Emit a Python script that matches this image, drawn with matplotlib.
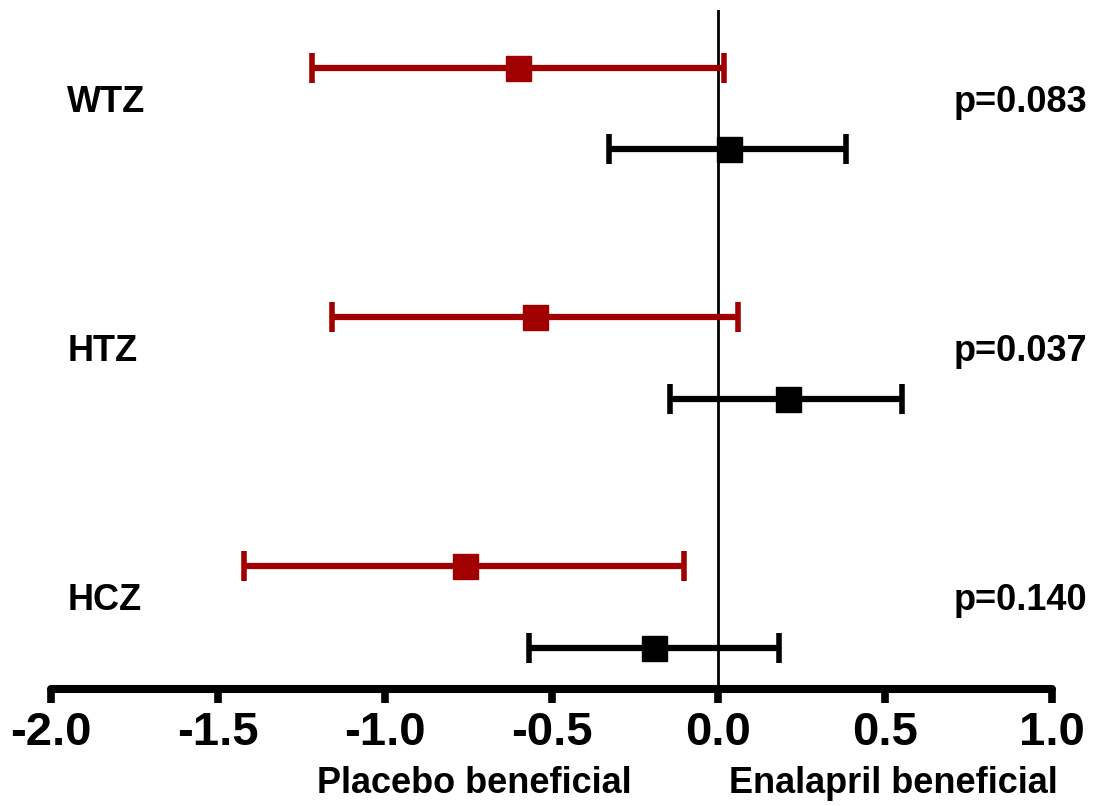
import matplotlib
matplotlib.use("Agg")
import matplotlib.pyplot as plt
import numpy as np

plt.rcParams['font.family'] = ['Liberation Sans', 'DejaVu Sans']
plt.rcParams['font.weight'] = 'bold'

# genotype groups, top to bottom
groups = ['WTZ', 'HTZ', 'HCZ']
p_values = ['p=0.083', 'p=0.037', 'p=0.140']

# effect estimate with lower / upper limits, first series (red)
red_est = [-0.601, -0.548, -0.760]
red_lo = [-1.218, -1.159, -1.422]
red_hi = [0.017, 0.060, -0.103]

# second series (black)
black_est = [0.031, 0.209, -0.192]
black_lo = [-0.329, -0.144, -0.566]
black_hi = [0.384, 0.551, 0.183]

xticks = [-2.0, -1.5, -1.0, -0.5, 0.0, 0.5, 1.0]

RED = '#a00000'

fig = plt.figure(figsize=(11.03, 8.06), dpi=100)
ax = fig.add_axes([51 / 1103, (806 - 689) / 806, 1001 / 1103, 679 / 806])

ypos = np.array([3, 2, 1])
off = 0.164


def draw_series(y, est, lo, hi, color):
    est = np.asarray(est)
    xerr = [est - np.asarray(lo), np.asarray(hi) - est]
    _, caps, bars = ax.errorbar(est, y, xerr=xerr, fmt='s', color=color, ecolor=color,
                                ms=18, elinewidth=4.5, capsize=10.8, capthick=4,
                                zorder=3)
    for c in caps:
        c.set_solid_capstyle('round')


draw_series(ypos + off, red_est, red_lo, red_hi, RED)
draw_series(ypos - off, black_est, black_lo, black_hi, 'black')

ax.axvline(0, color='black', lw=2, zorder=2)

for y, g, p in zip(ypos, groups, p_values):
    ax.text(-1.951, y - 0.014, g, fontsize=26, fontweight='bold', ha='left',
            va='baseline')
    ax.text(1.106, y - 0.014, p, fontsize=26, fontweight='bold', ha='right',
            va='baseline', clip_on=False)

ax.text(-0.731, 0.254, 'Placebo beneficial', fontsize=26, fontweight='bold',
        ha='center', va='baseline', clip_on=False)
ax.text(0.526, 0.254, 'Enalapril beneficial', fontsize=26, fontweight='bold',
        ha='center', va='baseline', clip_on=False)

ax.set_xlim(-2.0, 1.0)
ax.set_ylim(0.671, 3.395)
ax.set_xticks(xticks)
ax.set_xticklabels([f'{t:.1f}' for t in xticks], fontsize=34, fontweight='bold')
ax.tick_params(axis='x', direction='out', length=10, width=5.5, pad=5.5)
ax.set_yticks([])

for side in ['top', 'right', 'left']:
    ax.spines[side].set_visible(False)
ax.spines['bottom'].set_linewidth(5.8)
ax.spines['bottom'].set_capstyle('round')

fig.savefig('out.png', dpi=100)
